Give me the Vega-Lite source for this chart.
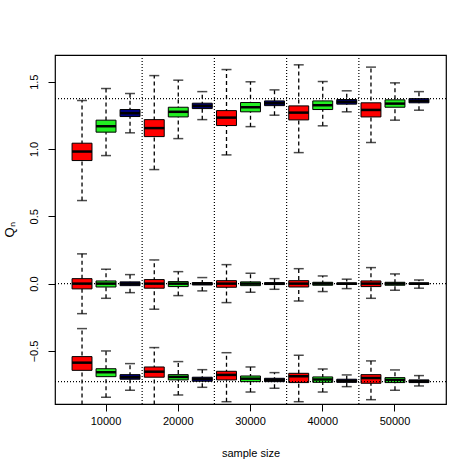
{
  "$schema": "https://vega.github.io/schema/vega-lite/v6.json",
  "width": 391,
  "height": 349,
  "autosize": "none",
  "padding": {"left": 55, "top": 55, "right": 28, "bottom": 70},
  "background": "white",
  "config": {
    "view": {"stroke": "black", "strokeWidth": 1.2},
    "font": "Liberation Sans",
    "axis": {
      "grid": false,
      "domain": false,
      "tickColor": "black",
      "tickSize": 7,
      "labelColor": "black",
      "labelFontSize": 11,
      "titleColor": "black",
      "titleFontSize": 11,
      "titleFontWeight": "normal"
    }
  },
  "datasets": {
    "boxes": [
      {"n": 10000, "m": "a", "lo": 0.617, "q1": 0.914, "med": 0.981, "q3": 1.043, "hi": 1.360},
      {"n": 10000, "m": "b", "lo": 0.951, "q1": 1.125, "med": 1.169, "q3": 1.214, "hi": 1.449},
      {"n": 10000, "m": "c", "lo": 1.120, "q1": 1.241, "med": 1.266, "q3": 1.293, "hi": 1.412},
      {"n": 20000, "m": "a", "lo": 0.847, "q1": 1.092, "med": 1.155, "q3": 1.218, "hi": 1.545},
      {"n": 20000, "m": "b", "lo": 1.077, "q1": 1.238, "med": 1.276, "q3": 1.310, "hi": 1.511},
      {"n": 20000, "m": "c", "lo": 1.218, "q1": 1.300, "med": 1.320, "q3": 1.340, "hi": 1.426},
      {"n": 30000, "m": "a", "lo": 0.956, "q1": 1.174, "med": 1.233, "q3": 1.285, "hi": 1.590},
      {"n": 30000, "m": "b", "lo": 1.166, "q1": 1.276, "med": 1.310, "q3": 1.345, "hi": 1.499},
      {"n": 30000, "m": "c", "lo": 1.251, "q1": 1.322, "med": 1.340, "q3": 1.357, "hi": 1.439},
      {"n": 40000, "m": "a", "lo": 0.973, "q1": 1.216, "med": 1.270, "q3": 1.320, "hi": 1.625},
      {"n": 40000, "m": "b", "lo": 1.172, "q1": 1.293, "med": 1.325, "q3": 1.357, "hi": 1.501},
      {"n": 40000, "m": "c", "lo": 1.276, "q1": 1.333, "med": 1.350, "q3": 1.367, "hi": 1.432},
      {"n": 50000, "m": "a", "lo": 1.048, "q1": 1.238, "med": 1.290, "q3": 1.343, "hi": 1.608},
      {"n": 50000, "m": "b", "lo": 1.214, "q1": 1.310, "med": 1.337, "q3": 1.365, "hi": 1.491},
      {"n": 50000, "m": "c", "lo": 1.288, "q1": 1.343, "med": 1.357, "q3": 1.374, "hi": 1.426},

      {"n": 10000, "m": "a", "lo": -0.223, "q1": -0.039, "med": 0.0, "q3": 0.037, "hi": 0.221},
      {"n": 10000, "m": "b", "lo": -0.109, "q1": -0.025, "med": 0.0, "q3": 0.020, "hi": 0.107},
      {"n": 10000, "m": "c", "lo": -0.067, "q1": -0.015, "med": 0.0, "q3": 0.013, "hi": 0.067},
      {"n": 20000, "m": "a", "lo": -0.190, "q1": -0.034, "med": 0.0, "q3": 0.030, "hi": 0.176},
      {"n": 20000, "m": "b", "lo": -0.089, "q1": -0.022, "med": 0.0, "q3": 0.015, "hi": 0.089},
      {"n": 20000, "m": "c", "lo": -0.054, "q1": -0.010, "med": 0.0, "q3": 0.008, "hi": 0.045},
      {"n": 30000, "m": "a", "lo": -0.141, "q1": -0.027, "med": 0.0, "q3": 0.022, "hi": 0.141},
      {"n": 30000, "m": "b", "lo": -0.064, "q1": -0.015, "med": 0.0, "q3": 0.013, "hi": 0.077},
      {"n": 30000, "m": "c", "lo": -0.042, "q1": -0.007, "med": 0.0, "q3": 0.007, "hi": 0.037},
      {"n": 40000, "m": "a", "lo": -0.129, "q1": -0.025, "med": 0.0, "q3": 0.022, "hi": 0.111},
      {"n": 40000, "m": "b", "lo": -0.059, "q1": -0.012, "med": 0.0, "q3": 0.010, "hi": 0.057},
      {"n": 40000, "m": "c", "lo": -0.037, "q1": -0.006, "med": 0.0, "q3": 0.005, "hi": 0.033},
      {"n": 50000, "m": "a", "lo": -0.109, "q1": -0.022, "med": 0.0, "q3": 0.020, "hi": 0.119},
      {"n": 50000, "m": "b", "lo": -0.049, "q1": -0.012, "med": 0.0, "q3": 0.010, "hi": 0.072},
      {"n": 50000, "m": "c", "lo": -0.034, "q1": -0.006, "med": 0.0, "q3": 0.005, "hi": 0.027},

      {"n": 10000, "m": "a", "lo": -0.950, "q1": -0.644, "med": -0.587, "q3": -0.542, "hi": -0.334},
      {"n": 10000, "m": "b", "lo": -0.844, "q1": -0.691, "med": -0.658, "q3": -0.632, "hi": -0.500},
      {"n": 10000, "m": "c", "lo": -0.792, "q1": -0.710, "med": -0.695, "q3": -0.676, "hi": -0.594},
      {"n": 20000, "m": "a", "lo": -0.950, "q1": -0.695, "med": -0.654, "q3": -0.619, "hi": -0.475},
      {"n": 20000, "m": "b", "lo": -0.827, "q1": -0.715, "med": -0.693, "q3": -0.676, "hi": -0.579},
      {"n": 20000, "m": "c", "lo": -0.770, "q1": -0.725, "med": -0.708, "q3": -0.695, "hi": -0.639},
      {"n": 30000, "m": "a", "lo": -0.877, "q1": -0.715, "med": -0.678, "q3": -0.651, "hi": -0.513},
      {"n": 30000, "m": "b", "lo": -0.805, "q1": -0.728, "med": -0.706, "q3": -0.686, "hi": -0.619},
      {"n": 30000, "m": "c", "lo": -0.777, "q1": -0.728, "med": -0.715, "q3": -0.703, "hi": -0.661},
      {"n": 40000, "m": "a", "lo": -0.877, "q1": -0.735, "med": -0.688, "q3": -0.666, "hi": -0.532},
      {"n": 40000, "m": "b", "lo": -0.805, "q1": -0.733, "med": -0.712, "q3": -0.693, "hi": -0.634},
      {"n": 40000, "m": "c", "lo": -0.765, "q1": -0.733, "med": -0.723, "q3": -0.710, "hi": -0.678},
      {"n": 50000, "m": "a", "lo": -0.862, "q1": -0.740, "med": -0.701, "q3": -0.676, "hi": -0.574},
      {"n": 50000, "m": "b", "lo": -0.792, "q1": -0.735, "med": -0.715, "q3": -0.698, "hi": -0.641},
      {"n": 50000, "m": "c", "lo": -0.760, "q1": -0.735, "med": -0.725, "q3": -0.715, "hi": -0.683}
    ],
    "separators": [{"n": 20000}, {"n": 30000}, {"n": 40000}, {"n": 50000}],
    "targets": [{"v": 1.374}, {"v": 0.0}, {"v": -0.728}]
  },
  "layer": [
    {
      "data": {"name": "boxes"},
      "mark": {"type": "rule", "color": "black", "strokeWidth": 1.3, "strokeDash": [4, 3], "clip": true},
      "encoding": {
        "x": {"field": "n", "type": "ordinal", "scale": {"domain": [10000, 20000, 30000, 40000, 50000], "paddingInner": 0, "paddingOuter": 0.2064},
              "axis": {"title": "sample size", "labelAngle": 0, "labelPadding": 4, "titleY": 49, "titleBaseline": "middle"}},
        "xOffset": {"field": "m", "type": "nominal", "scale": {"domain": ["a", "b", "c"], "paddingInner": 0.17, "paddingOuter": 0.09}},
        "y": {"field": "lo", "type": "quantitative", "scale": {"domain": [-0.894, 1.698], "nice": false, "zero": false},
              "axis": {"title": "Qₙ", "titleFontSize": 13, "values": [-0.5, 0, 0.5, 1, 1.5], "format": ".1f", "labelAngle": -90, "labelAlign": "center", "labelBaseline": "bottom", "labelPadding": 9,
                       "titleX": -46, "titleY": 174.5, "titleAngle": -90, "titleAlign": "center", "titleBaseline": "middle"}},
        "y2": {"field": "hi"}
      }
    },
    {
      "data": {"name": "boxes"},
      "mark": {"type": "tick", "orient": "horizontal", "color": "black", "size": 10, "thickness": 1.5, "clip": true},
      "encoding": {
        "x": {"field": "n", "type": "ordinal"},
        "xOffset": {"field": "m", "type": "nominal"},
        "y": {"field": "lo", "type": "quantitative"}
      }
    },
    {
      "data": {"name": "boxes"},
      "mark": {"type": "tick", "orient": "horizontal", "color": "black", "size": 10, "thickness": 1.5, "clip": true},
      "encoding": {
        "x": {"field": "n", "type": "ordinal"},
        "xOffset": {"field": "m", "type": "nominal"},
        "y": {"field": "hi", "type": "quantitative"}
      }
    },
    {
      "data": {"name": "boxes"},
      "mark": {"type": "bar", "stroke": "black", "strokeWidth": 1, "opacity": 1, "clip": true},
      "encoding": {
        "x": {"field": "n", "type": "ordinal"},
        "xOffset": {"field": "m", "type": "nominal"},
        "y": {"field": "q1", "type": "quantitative"},
        "y2": {"field": "q3"},
        "fill": {"field": "m", "type": "nominal", "scale": {"domain": ["a", "b", "c"], "range": ["#ff0000", "#22ee22", "#000080"]}, "legend": null}
      }
    },
    {
      "data": {"name": "boxes"},
      "mark": {"type": "tick", "orient": "horizontal", "color": "black", "size": 20, "thickness": 2.5, "opacity": 1, "clip": true},
      "encoding": {
        "x": {"field": "n", "type": "ordinal"},
        "xOffset": {"field": "m", "type": "nominal"},
        "y": {"field": "med", "type": "quantitative"}
      }
    },
    {
      "data": {"name": "separators"},
      "mark": {"type": "rule", "color": "black", "strokeWidth": 1.2, "strokeDash": [1, 2]},
      "encoding": {
        "x": {"field": "n", "type": "ordinal", "bandPosition": 0}
      }
    },
    {
      "data": {"name": "targets"},
      "mark": {"type": "rule", "color": "black", "strokeWidth": 1.2, "strokeDash": [1, 2]},
      "encoding": {
        "y": {"field": "v", "type": "quantitative"}
      }
    }
  ]
}
